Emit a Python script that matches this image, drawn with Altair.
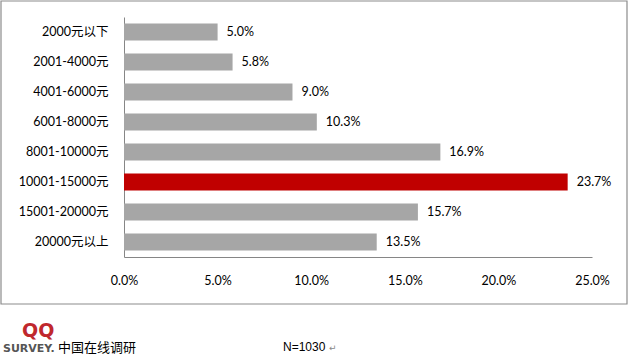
import altair as alt
import pandas as pd

categories = ["2000元以下", "2001-4000元", "4001-6000元", "6001-8000元",
              "8001-10000元", "10001-15000元", "15001-20000元", "20000元以上"]
values = [5.0, 5.8, 9.0, 10.3, 16.9, 23.7, 15.7, 13.5]
highlight = "10001-15000元"
x_ticks = [0, 5, 10, 15, 20, 25]

df = pd.DataFrame({"cat": categories, "val": values})
df["label"] = [f"{v:.1f}%" for v in values]

FONT = "Lato, 'Noto Sans CJK SC'"

base = alt.Chart(df)

bars = base.mark_bar(size=17).encode(
    x=alt.X("val:Q", scale=alt.Scale(domain=[0, 25], nice=False),
            axis=alt.Axis(values=x_ticks, labelExpr="format(datum.value, '.1f') + '%'",
                          title=None, grid=False, ticks=False, labelPadding=17,
                          labelFlush=False, labelOverlap=False,
                          domainColor="#868686", labelFont=FONT, labelFontSize=12.5,
                          labelColor="#000000")),
    y=alt.Y("cat:N", sort=categories,
            scale=alt.Scale(paddingInner=0.43, paddingOuter=0.215),
            axis=alt.Axis(title=None, ticks=False, labelPadding=16,
                          domainColor="#868686", labelFont=FONT, labelFontSize=12.5,
                          labelColor="#000000")),
    color=alt.condition(alt.datum.cat == highlight, alt.value("#C00000"), alt.value("#A6A6A6")),
)

texts = base.mark_text(align="left", baseline="middle", dx=9, font=FONT, fontSize=12.5,
                       color="#000000").encode(
    x="val:Q", y=alt.Y("cat:N", sort=categories), text="label:N")

border = alt.Chart(pd.DataFrame({"a": [0]})).mark_rect(
    fill=None, stroke="#8C8C8C", strokeWidth=1.2).encode(
    x=alt.value(-123), x2=alt.value(503), y=alt.value(-16), y2=alt.value(287))

footer_df = pd.DataFrame({"t": ["中国在线调研"]})
footer = alt.Chart(footer_df).mark_text(
    align="left", baseline="alphabetic", font="'Noto Sans CJK SC'", fontSize=13,
    color="#000000").encode(x=alt.value(-66), y=alt.value(335), text="t:N")

n_txt = alt.Chart(pd.DataFrame({"t": ["N=1030"]})).mark_text(
    align="left", baseline="alphabetic", font="'Liberation Sans'", fontSize=12,
    color="#000000").encode(x=alt.value(159), y=alt.value(334), text="t:N")
n_mark = alt.Chart(pd.DataFrame({"t": ["↵"]})).mark_text(
    align="left", baseline="alphabetic", font="'DejaVu Sans'", fontSize=9,
    color="#888888").encode(x=alt.value(205), y=alt.value(334), text="t:N")

logo_q = alt.Chart(pd.DataFrame({"t": ["QQ"]})).mark_text(
    align="left", baseline="alphabetic", font="'DejaVu Sans'", fontWeight="bold",
    fontSize=19, color="#C0282D").encode(x=alt.value(-102), y=alt.value(320), text="t:N")
logo_s = alt.Chart(pd.DataFrame({"t": ["SURVEY."]})).mark_text(
    align="left", baseline="alphabetic", font="'DejaVu Sans'", fontWeight="bold",
    fontSize=11, color="#555555").encode(x=alt.value(-121), y=alt.value(335), text="t:N")

chart = alt.layer(border, bars, texts, footer, n_txt, n_mark, logo_q, logo_s).properties(
    width=468, height=240,
    autosize=alt.AutoSizeParams(type="none"),
    padding={"left": 124, "top": 17, "right": 38, "bottom": 98},
    background="white",
).configure_view(stroke=None)

chart.save("out.html", embed_options={"renderer": "svg", "actions": False})
